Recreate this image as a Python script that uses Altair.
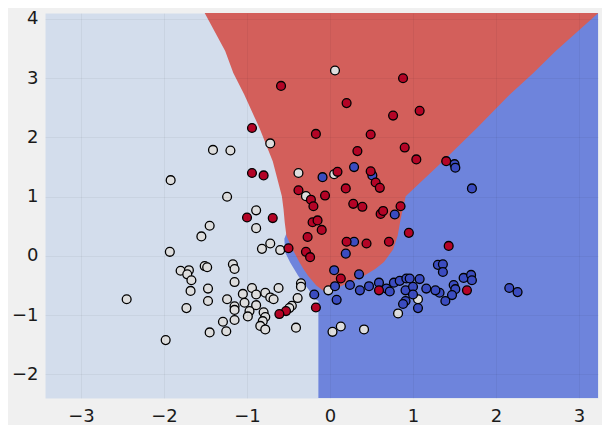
import altair as alt
import pandas as pd

# ---- scatter points ----
white_x = [-1.41, -1.20, -1.92, -1.24, 0.06, -0.72, -0.38, 0.05, -0.29, -0.89, -0.89, -1.45, -1.55,
           -1.93, -1.80, -1.70, -1.72, -1.67, -1.51, -1.48, -1.17, -1.15, -1.15, -1.68, -1.47, -2.45,
           -1.47, -1.73, -1.24, -1.05, -0.94, -0.89, -1.03, -1.15, -1.15, -0.89, -0.97, -0.99, -0.80,
           -0.78, -0.81, -0.84, -0.78, -1.15, -1.29, -1.25, -1.45, -1.98, -0.72, -0.82, -0.60, -0.02,
           -0.35, -0.35, -0.39, -0.46, -0.49, -0.78, -0.62, -0.72, -0.68, -0.41, 0.03, 0.13, 0.41,
           0.82, 1.06]
white_y = [1.79, 1.78, 1.28, 1.00, 3.13, 1.90, 1.40, 1.38, 1.01, 0.77, 0.47, 0.51, 0.33,
           0.07, -0.25, -0.24, -0.31, -0.41, -0.17, -0.19, -0.14, -0.22, -0.44, -0.59, -0.55, -0.73,
           -0.76, -0.88, -0.73, -0.64, -0.54, -0.65, -0.79, -0.85, -0.91, -0.83, -0.93, -1.02, -0.95,
           -1.03, -1.10, -1.18, -1.24, -1.08, -1.11, -1.27, -1.29, -1.42, 0.21, 0.12, 0.10, -0.58,
           -0.46, -0.52, -0.71, -0.84, -0.88, -0.62, -0.54, -0.70, -0.73, -1.21, -1.28, -1.19, -1.24,
           -0.97, -0.73]

blue_x = [-0.09, 0.29, 0.51, 1.50, 1.51, 1.71, 0.78, 0.29, 0.19, 0.05, 0.35, 0.06, 0.24, 0.36,
          0.47, 0.59, 0.68, 0.72, 0.77, 0.84, 0.92, 0.91, 0.91, 0.88, -0.19, 0.08, 1.30, 1.36,
          1.36, 1.61, 1.70, 1.71, 1.49, 1.51, 1.47, 1.39, 1.32, 1.27, 1.16, 1.08, 1.00, 0.96,
          1.06, 1.00, 2.16, 2.26]
blue_y = [1.33, 1.50, 1.36, 1.55, 1.49, 1.14, 0.70, 0.24, 0.04, -0.24, -0.31, -0.51, -0.49, -0.58,
          -0.51, -0.45, -0.55, -0.60, -0.45, -0.42, -0.38, -0.58, -0.76, -0.81, -0.65, -0.74, -0.15, -0.14,
          -0.27, -0.37, -0.32, -0.41, -0.49, -0.56, -0.66, -0.76, -0.62, -0.58, -0.55, -0.39, -0.52, -0.38,
          -0.88, -0.65, -0.54, -0.61]

red_x = [-0.94, -0.94, -0.80, -0.59, 0.88, 0.20, 0.76, -0.17, 0.49, 0.90, 0.33, 0.09, 0.49, 0.55,
         0.60, -0.38, -0.23, -0.20, -0.06, 0.19, 0.28, 0.39, 0.61, 0.64, 0.85, -0.21, -0.15, -0.10,
         -0.27, 0.20, 0.44, 0.71, 0.95, -0.50, -0.29, -0.24, 0.13, 0.59, -0.17, -0.53, -0.61, -1.00,
         -0.69, 1.08, 1.04, 1.40, 1.43, 1.65]
red_y = [2.16, 1.40, 1.36, 2.87, 3.00, 2.58, 2.37, 2.06, 2.05, 1.83, 1.77, 1.42, 1.43, 1.24,
         1.15, 1.11, 0.95, 0.84, 1.02, 1.14, 0.88, 0.83, 0.71, 0.76, 0.84, 0.57, 0.60, 0.44,
         0.32, 0.24, 0.21, 0.24, 0.39, 0.13, 0.07, -0.02, -0.38, -0.58, -0.87, -0.93, -0.98, 0.65,
         0.64, 2.45, 1.63, 1.60, 0.17, -0.58]

# ---- decision regions (boundaries) ----
red_levels = [-0.61, -0.50, -0.34, -0.22, -0.10, 0.11, 0.34, 0.56, 0.79, 1.01, 1.60, 2.16, 2.73, 3.09, 3.46, 4.10]
red_left = [-0.06, -0.165, -0.26, -0.32, -0.37, -0.45, -0.525, -0.545, -0.56, -0.58, -0.69, -0.85, -1.035, -1.165, -1.263, -1.51]
red_right = [-0.03, 0.15, 0.40, 0.545, 0.65, 0.76, 0.815, 0.843, 0.876, 0.912, 1.36, 1.77, 2.17, 2.45, 2.72, 3.23]

blue_levels = [-2.40, -0.76, -0.73, -0.56, -0.34, -0.11, 0.06, 0.29, 0.40, 1.01, 1.60, 2.16, 2.73, 3.46, 4.10]
blue_left = [-0.14, -0.14, -0.18, -0.26, -0.38, -0.48, -0.54, -0.55, -0.52, -0.56, -0.67, -0.84, -1.02, -1.25, -1.49]

X_DOMAIN = [-3.434, 3.229]
Y_DOMAIN = [-2.397, 4.101]
x_ticks = [-3, -2, -1, 0, 1, 2, 3]
y_ticks = [-2, -1, 0, 1, 2, 3, 4]

GRAY_REGION = "#d3ddec"
RED_REGION = "#d35f5b"
BLUE_REGION = "#6e84dc"

xs = alt.Scale(domain=X_DOMAIN, nice=False, zero=False)
ys = alt.Scale(domain=Y_DOMAIN, nice=False, zero=False)

axis_common = dict(title=None, grid=True, gridColor="#000000", gridOpacity=0.045, gridWidth=1,
                   domain=False, ticks=False, labelFontSize=18, labelFont="DejaVu Sans",
                   labelColor="#1a1a1a", zindex=1)
x_axis = alt.Axis(values=x_ticks, labelPadding=9, **axis_common)
y_axis = alt.Axis(values=y_ticks, labelPadding=7, **axis_common)

blue_df = pd.DataFrame({"yy": blue_levels, "xa": blue_left, "xb": [X_DOMAIN[1]] * len(blue_levels)})
red_df = pd.DataFrame({"yy": red_levels, "xa": red_left, "xb": red_right})

def region(df, colour):
    return alt.Chart(df).mark_area(orient="horizontal", color=colour, opacity=1, clip=True).encode(
        y=alt.Y("yy:Q", scale=ys, axis=y_axis),
        x=alt.X("xa:Q", scale=xs, axis=x_axis),
        x2=alt.X2("xb:Q"),
    )

blue_area = region(blue_df, BLUE_REGION)
red_area = region(red_df, RED_REGION)

pts = pd.concat([
    pd.DataFrame({"x": white_x, "y": white_y, "cls": "0"}),
    pd.DataFrame({"x": blue_x, "y": blue_y, "cls": "1"}),
    pd.DataFrame({"x": red_x, "y": red_y, "cls": "2"}),
], ignore_index=True)

points = alt.Chart(pts).mark_circle(size=78, opacity=1, stroke="#000000", strokeWidth=1.3, clip=True).encode(
    x=alt.X("x:Q", scale=xs, axis=x_axis),
    y=alt.Y("y:Q", scale=ys, axis=y_axis),
    color=alt.Color("cls:N", scale=alt.Scale(domain=["0", "1", "2"],
                                             range=["#dddddd", "#3b4cc0", "#b40426"]), legend=None),
)

chart = alt.layer(blue_area, red_area, points).properties(
    width=553, height=385,
    autosize=alt.AutoSizeParams(type="none"),
    padding={"left": 37, "top": 5, "right": 4, "bottom": 27},
    background="#f0f0f0",
).configure_view(fill=GRAY_REGION, stroke="transparent")

chart.save("out.html", embed_options={"renderer": "svg", "actions": False})
